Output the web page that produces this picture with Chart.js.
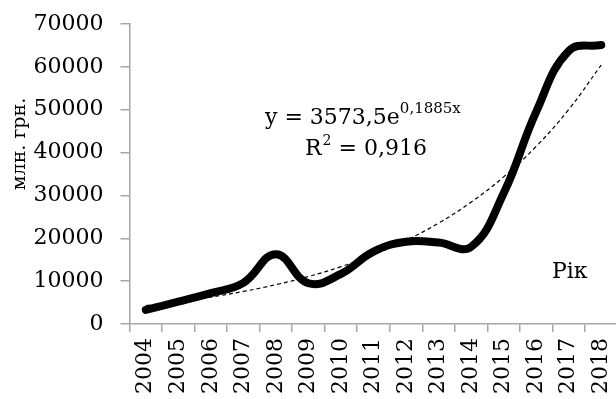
<!DOCTYPE html>
<html><head><meta charset="utf-8">
<script src="https://cdn.jsdelivr.net/npm/chart.js@4"></script>
<style>html,body{margin:0;padding:0;background:#fff;overflow:hidden}
#wrap{position:absolute;left:0;top:0;width:620px;height:399px}</style>
</head><body><div id="wrap"><canvas id="c" width="620" height="399"></canvas></div>
<script>
const years = ['2004','2005','2006','2007','2008','2009','2010','2011','2012','2013','2014','2015','2016','2017','2018'];
const revenue = [3300, 5200, 7200, 9600, 16300, 9500, 11700, 16900, 19200, 19000, 18000, 30500, 49500, 63700, 65100];
const trend = [4315, 5210, 6291, 7596, 9172, 11075, 13373, 16147, 19497, 23542, 28426, 34323, 41443, 50041, 60423];
const yMin = 0, yMax = 70000, yStep = 10000;
const yTitle = 'млн. грн.';
const xTitle = 'Рік';
const eqMain = 'y = 3573,5e';
const eqExp = '0,1885x';
const r2Main = 'R';
const r2Sup = '2';
const r2Rest = ' = 0,916';

const FONT = '"DejaVu Serif", serif';
const grey = '#a6a6a6';

const textPlugin = {
  id: 'texts',
  afterDraw(chart) {
    const ctx = chart.ctx;
    ctx.save();
    ctx.fillStyle = '#000';
    ctx.textBaseline = 'alphabetic';
    ctx.save();
    ctx.translate(20, 144);
    ctx.rotate(-Math.PI / 2);
    ctx.textAlign = 'center';
    ctx.textBaseline = 'middle';
    ctx.font = '19px ' + FONT;
    ctx.fillText(yTitle, 0, 0);
    ctx.restore();
    ctx.textAlign = 'left';
    ctx.font = '22px ' + FONT;
    ctx.fillText(eqMain, 265, 124);
    let w = ctx.measureText(eqMain).width;
    ctx.font = '15px ' + FONT;
    ctx.fillText(eqExp, 265 + w, 113);
    ctx.font = '22px ' + FONT;
    ctx.fillText(r2Main, 305, 155);
    w = ctx.measureText(r2Main).width;
    ctx.font = '14px ' + FONT;
    ctx.fillText(r2Sup, 305 + w + 1, 145);
    const w2 = ctx.measureText(r2Sup).width;
    ctx.font = '22px ' + FONT;
    ctx.fillText(r2Rest, 305 + w + 1 + w2, 155);
    ctx.fillText(xTitle, 552, 278);
    ctx.restore();
  }
};

new Chart(document.getElementById('c'), {
  type: 'line',
  data: {
    labels: years,
    datasets: [
      {
        data: revenue,
        borderColor: '#000',
        borderWidth: 8,
        tension: 0.42,
        pointRadius: 0,
        borderCapStyle: 'round',
        borderJoinStyle: 'round',
        fill: false,
        order: 2
      },
      {
        data: trend,
        borderColor: '#000',
        borderWidth: 1.2,
        borderDash: [4, 3],
        tension: 0.4,
        pointRadius: 0,
        fill: false,
        order: 1
      }
    ]
  },
  options: {
    responsive: false,
    animation: false,
    devicePixelRatio: 1,
    layout: { padding: { top: 24, right: 2.5, bottom: 0, left: 0 } },
    plugins: { legend: { display: false }, tooltip: { enabled: false } },
    scales: {
      x: {
        type: 'category',
        offset: true,
        grid: { offset: true, drawOnChartArea: false, drawTicks: true, tickLength: 8, color: grey, lineWidth: 1.5 },
        border: { color: grey, width: 1.5 },
        ticks: { color: '#000', font: { family: FONT, size: 22 }, minRotation: 90, maxRotation: 90, padding: 6, autoSkip: false },
        afterFit(s) { s.height = 75; s.paddingLeft = 0; s.paddingRight = 0; }
      },
      y: {
        min: yMin, max: yMax,
        grid: { drawOnChartArea: false, drawTicks: true, tickLength: 9, color: grey, lineWidth: 1.5 },
        border: { color: grey, width: 1.5 },
        ticks: { stepSize: yStep, color: '#000', font: { family: FONT, size: 22 }, padding: 17,
                 callback: (v) => String(v) },
        afterFit(s) { s.width = 129.5; s.paddingTop = 10; s.paddingBottom = 10; }
      }
    }
  },
  plugins: [textPlugin]
});
</script></body></html>
